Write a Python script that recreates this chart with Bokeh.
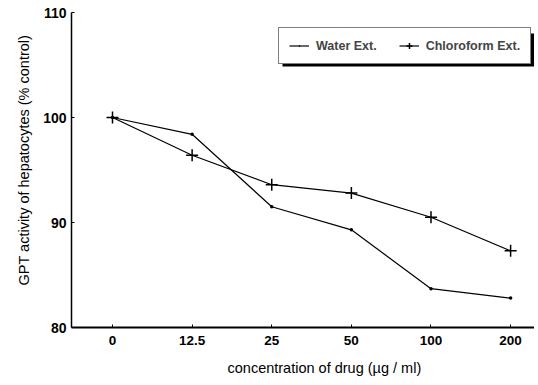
from bokeh.plotting import figure
from bokeh.models import Range1d, FixedTicker, Legend, LegendItem, BoxAnnotation, Title
from bokeh.embed import file_html
from bokeh.resources import INLINE

concentrations = ["0", "12.5", "25", "50", "100", "200"]
water_ext = [100.0, 98.4, 91.5, 89.3, 83.7, 82.8]
chloroform_ext = [100.0, 96.4, 93.6, 92.8, 90.5, 87.3]
y_ticks = [80, 90, 100, 110]

xs = list(range(len(concentrations)))

W, H = 534, 385
BL, BT, BB, BR = 71, 12, 58, 0
x0, x1 = -0.515, 5.30
y0, y1 = 80, 110
p = figure(width=W, height=H, output_backend="svg", toolbar_location=None,
           x_range=Range1d(x0, x1), y_range=Range1d(y0, y1),
           min_border_left=BL, min_border_top=BT, min_border_bottom=BB, min_border_right=BR)
p.outline_line_color = None
p.xgrid.visible = False
p.ygrid.visible = False

FONT = "Liberation Sans"
p.xaxis.ticker = FixedTicker(ticks=xs)
p.xaxis.major_label_overrides = {i: c for i, c in enumerate(concentrations)}
p.yaxis.ticker = FixedTicker(ticks=y_ticks)
for ax in (p.xaxis, p.yaxis):
    ax.major_label_text_font = FONT
    ax.major_label_text_font_style = "bold"
    ax.major_label_text_font_size = "13.5px"
    ax.major_label_text_color = "black"
    ax.axis_line_color = "black"
    ax.major_tick_line_color = "black"
    ax.major_tick_in = 3
    ax.major_tick_out = 0
    ax.minor_tick_line_color = None
p.yaxis.major_label_text_font_size = "14px"
p.xaxis.axis_line_width = 2
p.yaxis.axis_line_width = 1.5
p.xaxis.major_label_standoff = 8
p.yaxis.major_label_standoff = 5

ylabel = Title(text="GPT activity of hepatocytes  (% control)", align="left", offset=42,
               text_font=FONT, text_font_style="normal", text_font_size="14.5px",
               text_color="black", standoff=17)
p.add_layout(ylabel, "left")

xlabel = Title(text="concentration of drug  (\u00b5g / ml)", align="left", offset=156,
               text_font=FONT, text_font_style="normal", text_font_size="14.5px",
               text_color="black", standoff=20)
p.add_layout(xlabel, "below")

lw = p.line(xs, water_ext, line_color="black", line_width=1.2)
mw = p.scatter(xs, water_ext, marker="dot", size=14, color="black")
lc = p.line(xs, chloroform_ext, line_color="black", line_width=1.2)
mc = p.scatter(xs, chloroform_ext, marker="cross", size=12, line_color="black", line_width=1.5)

# legend shadow (decoration)
fw = W - BL - BR
fh = H - BT - BB
def px_to_x(px):
    return x0 + (x1 - x0) * px / fw
def py_to_y(py):
    return y0 + (y1 - y0) * py / fh
leg_left, leg_bottom, leg_w, leg_h = 207, 266, 252, 33
shadow = BoxAnnotation(left=px_to_x(leg_left + 4), right=px_to_x(leg_left + leg_w + 4),
                       bottom=py_to_y(leg_bottom - 5), top=py_to_y(leg_bottom + leg_h - 5),
                       fill_color="black", fill_alpha=1, line_color=None, level="annotation")
p.add_layout(shadow)

legend = Legend(items=[LegendItem(label="Water Ext.", renderers=[lw, mw]),
                       LegendItem(label="Chloroform Ext.", renderers=[lc, mc])],
                orientation="horizontal", location=(leg_left, leg_bottom - 3),
                padding=10, spacing=22, glyph_width=20, glyph_height=15, label_height=15,
                label_standoff=7, border_line_color="black", border_line_width=1.5,
                background_fill_color="white", background_fill_alpha=1,
                label_text_font=FONT, label_text_font_style="bold",
                label_text_font_size="12.5px", margin=0)
p.add_layout(legend)

open("out.html", "w").write(file_html(p, INLINE))
